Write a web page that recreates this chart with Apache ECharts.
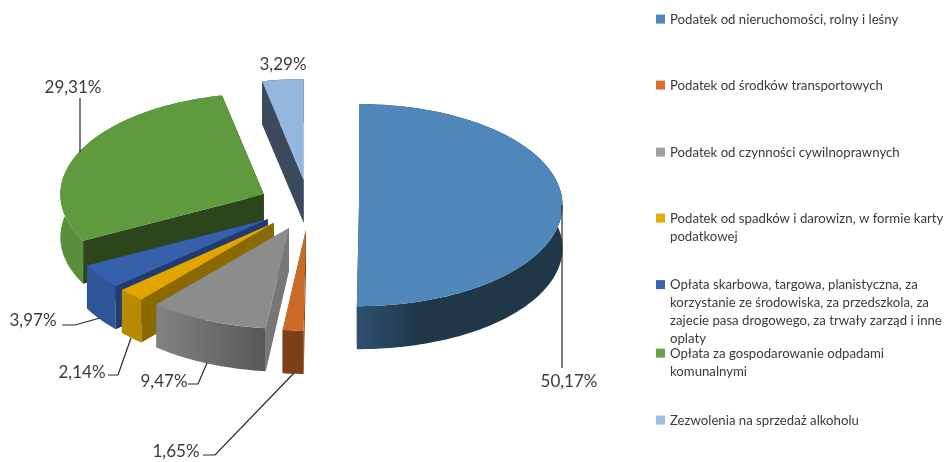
<!DOCTYPE html>
<html>
<head>
<meta charset="utf-8">
<title>Struktura dochodów</title>
<style>
  html, body { margin: 0; padding: 0; background: #fff; }
  #chart { width: 944px; height: 462px; filter: blur(0.55px); }
</style>
<script src="https://cdn.jsdelivr.net/npm/echarts@6/dist/echarts.min.js"></script>
</head>
<body>
<div id="chart"></div>
<script>
// data
var names = [
  'Podatek od nieruchomości, rolny i leśny',
  'Podatek od środków transportowych',
  'Podatek od czynności cywilnoprawnych',
  'Podatek od spadków i darowizn, w formie karty\npodatkowej',
  'Opłata skarbowa, targowa, planistyczna, za\nkorzystanie ze środowiska, za przedszkola, za\nzajecie pasa drogowego, za trwały zarząd i inne\noplaty',
  'Opłata za gospodarowanie odpadami\nkomunalnymi',
  'Zezwolenia na sprzedaż alkoholu'
]
var shares = [50.17, 1.65, 9.47, 2.14, 3.97, 29.31, 3.29]

// styles, same order as the data
var legendColors = ['#4f86bd', '#d8712e', '#a0a0a0', '#e6ab00', '#3a64ad', '#68a140', '#9cc0e6']
var topColors = ['#4f87ba', '#cc6b29', '#8c8c8c', '#e2a500', '#3660ab', '#5f9a3e', '#93b7dd']
var rimColors = [['#2f5070', '#203748'], ['#7c4018', '#7c4018'], ['#828282', '#585858'], ['#b88a00', '#b88a00'],
  ['#2e5598', '#2e5598'], ['#578f3a', '#578f3a'], ['#3b4a5c', '#3b4a5c']]
var sideColors = ['#203748', '#7c4018', '#777777', '#8a6a00', '#1f3b72', '#2c451a', '#3b4a5c']
var legendCenters = [19.5, 85.5, 152.5, 218.5, 285, 353.5, 420.5]
var paintOrder = [8, 7, 6, 5, 4, 3, 2]

// label box centre and leader line for each slice
var labelCenters = [[569, 382], [176, 452], [164, 382], [82, 373], [33, 321], [73, 88], [283, 65]]
var leaders = [
  [[562, 205], [562, 368]],
  [[203, 455], [215, 455], [294, 373]],
  [[188, 384], [198, 384], [207, 363]],
  [[108, 375], [118, 375], [131, 338]],
  [[62, 325], [75, 325], [100, 318]],
  [[80, 98], [80, 152]],
  []
]

var cx = 309, cy = 205, rx = 203.5, ry = 101, depth = 43
var explodeX = 50, explodeY = 25
var lineHeight = 17.8

function toRad (pct) {
  return pct / 100 * Math.PI * 2
}

function onEllipse (a, ox, oy) {
  return [ox + rx * Math.sin(a), oy - ry * Math.cos(a)]
}

function down (p) {
  return [p[0], p[1] + depth]
}

function sliceElements (idx) {
  var before = 0
  for (var i = 0; i < idx; i++) before += shares[i]
  var a0 = toRad(before)
  var a1 = toRad(before + shares[idx])
  var mid = (a0 + a1) / 2
  var ox = cx + explodeX * Math.sin(mid)
  var oy = cy - explodeY * Math.cos(mid)
  var apex = [ox, oy]

  var arc = []
  var steps = Math.max(2, Math.ceil((a1 - a0) / 0.02))
  for (var s = 0; s <= steps; s++) {
    arc.push(onEllipse(a0 + (a1 - a0) * s / steps, ox, oy))
  }
  var first = arc[0]
  var last = arc[arc.length - 1]
  var rim = new echarts.graphic.LinearGradient(0, 0, 1, 0, [
    { offset: 0, color: rimColors[idx][0] },
    { offset: idx === 0 ? 0.3 : 1, color: rimColors[idx][1] },
    { offset: 1, color: rimColors[idx][1] }
  ])

  var els = [
    { type: 'polygon', shape: { points: [apex, last, down(last), down(apex)] }, style: { fill: sideColors[idx] } },
    { type: 'polygon', shape: { points: arc.concat(arc.map(down).reverse()) }, style: { fill: rim } },
    { type: 'polygon', shape: { points: [apex, first, down(first), down(apex)] }, style: { fill: sideColors[idx] } },
    { type: 'polygon', shape: { points: [apex].concat(arc) }, style: { fill: topColors[idx] } }
  ]
  if (leaders[idx].length) {
    els.push({
      type: 'polyline',
      shape: { points: leaders[idx] },
      style: { stroke: '#262626', lineWidth: 1.2, fill: null }
    })
  }
  els.push({
    type: 'text',
    x: labelCenters[idx][0],
    y: labelCenters[idx][1],
    style: {
      text: shares[idx].toFixed(2).replace('.', ',') + '%',
      fill: '#3a3a3a',
      font: '17px Lato',
      align: 'center',
      verticalAlign: 'middle'
    }
  })
  return { type: 'group', children: els }
}

// rect icon that stays on the first line of a wrapped legend text
function legendIcon (lines) {
  var h = lines * lineHeight
  return 'path://M0,4H9V13H0Z M0,0L0,0 M0,' + h + 'L0,' + h
}

var chart = echarts.init(document.getElementById('chart'))
var option = {
  animation: false,
  legend: names.map(function (name, i) {
    var lines = name.split('\n').length
    return {
      left: 656,
      top: legendCenters[i] - lineHeight / 2,
      padding: 0,
      orient: 'vertical',
      selectedMode: false,
      itemWidth: 9,
      itemHeight: lines * lineHeight,
      icon: legendIcon(lines),
      data: [name],
      textStyle: { fontFamily: 'Lato', fontSize: 13.2, color: '#3a3a3a', lineHeight: lineHeight }
    }
  }),
  series: names.map(function (name, i) {
    return {
      type: 'custom',
      name: name,
      coordinateSystem: 'none',
      z: paintOrder[i],
      silent: true,
      itemStyle: { color: legendColors[i] },
      data: [shares[i]],
      renderItem: function () {
        return sliceElements(i)
      }
    }
  })
}
chart.setOption(option)
window.addEventListener('resize', function () { chart.resize() })
</script>
</body>
</html>
